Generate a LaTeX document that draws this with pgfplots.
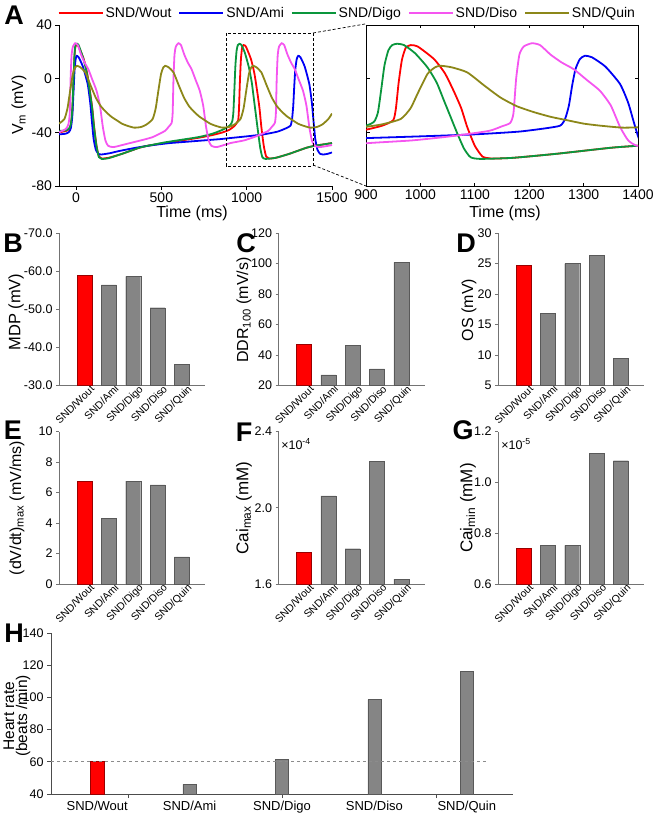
\documentclass[border=0pt]{standalone}
\usepackage{pgfplots}
\pgfplotsset{compat=1.18}
\usepackage{pgfplotstable}
\usepackage{fontspec}
\setmainfont{Liberation Sans}

\newcommand\fs[1]{\fontsize{#1}{#1}\selectfont}
\definecolor{cWout}{RGB}{255,0,0}
\definecolor{cAmi}{RGB}{0,0,245}
\definecolor{cDigo}{RGB}{10,150,60}
\definecolor{cDiso}{RGB}{245,85,240}
\definecolor{cQuin}{RGB}{140,135,25}

% action potentials, t (ms) vs Vm (mV)
\pgfplotstableread{
t v
-100 -40
-60 -39
-40 -37.5
-30 -34
-22 -24
-16 -5
-10 15
-5 23
2 25
15 24
45 14.6
65 4
81 -9
95 -22
106 -36
120 -50
134 -58
150 -59.5
190 -59
270 -56
370 -51.5
420 -50
520 -48
620 -46
720 -44
800 -42
860 -40
900 -38
930 -35
950 -31
955 -22
960 -3
966 14
973 23
982 25
995 24
1025 14.6
1045 4
1061 -9
1075 -22
1086 -36
1100 -50
1114 -58
1130 -59.5
1170 -59
1250 -56
1350 -51.5
1400 -50
1450 -49
1500 -48
}\tWout
\pgfplotstableread{
t v
-100 -41.5
-60 -41
-40 -39.5
-30 -36.5
-22 -28
-15 -10
-9 6
-3 14
3 17
15 16
40 9
68 -4
83 -18
93 -32
103 -45
116 -53
131 -56
150 -56.5
200 -55.5
250 -54
350 -51.5
450 -49.5
550 -48
650 -47
750 -46
850 -45
900 -44.3
1000 -43
1100 -41.5
1180 -39.5
1230 -37
1257 -35
1266 -30
1273 -20
1279 -5
1285 7
1293 14.5
1302 17
1315 16
1340 9
1367 -4
1382 -18
1392 -32
1402 -45
1415 -53
1430 -56
1450 -56.5
1475 -56
1500 -55
}\tAmi
\pgfplotstableread{
t v
-100 -39
-60 -38.5
-40 -37
-30 -33.5
-22 -23
-16 -4
-10 16
-5 24
2 26
15 25
45 14
65 3
81 -10
95 -23
106 -37
120 -50.5
134 -58.5
150 -59.8
190 -59.3
270 -56
370 -51.5
420 -50
520 -47.5
620 -45.5
720 -43.5
800 -41
860 -38
900 -35
915 -32
922 -25
928 -8
934 10
941 21
948 25
957 26
970 25
990 19
1013 8.4
1030 -3
1043 -16
1055 -28
1068 -41
1080 -52
1092 -58.5
1110 -59.8
1170 -59
1250 -56
1350 -51.5
1400 -50
1450 -49
1500 -48
}\tDigo
\pgfplotstableread{
t v
-100 -40
-60 -37.5
-45 -34
-37 -26
-32 0
-26 18
-18 24
-5 26.4
10 25
29 18
50 12
72 7
96 -1
120 -9
140 -20
157 -36
172 -46
188 -50
220 -51
300 -48.5
380 -46
450 -43.5
520 -39
545 -35.5
560 -33
566 -26
571 0
577 18
585 24
600 26.4
615 25
634 18
655 12
677 7
701 -1
725 -9
745 -20
762 -36
777 -46
793 -50
825 -51
905 -48
985 -46
1055 -43
1125 -39
1150 -35.5
1165 -33
1171 -26
1176 0
1182 18
1190 24
1205 26.4
1220 25
1239 18
1260 12
1282 7
1306 -1
1330 -9
1350 -20
1367 -36
1382 -46
1398 -50
1430 -51
1500 -49.5
}\tDiso
\pgfplotstableread{
t v
-100 -33.5
-68 -30
-50 -22
-37 -11
-19 3.5
-5 8.5
5 9.6
25 8.5
54 4.7
85 -5
115 -14
145 -20.5
177 -25
208 -28.5
238 -31
268 -33.5
298 -35
340 -36.5
382 -36
415 -34
449 -30
467 -22
480 -11
498 3.5
512 8.5
522 9.6
542 8.5
571 4.7
602 -5
632 -14
662 -20.5
694 -25
725 -28.5
755 -31
785 -33.5
815 -35
857 -36.5
897 -36
930 -34
964 -30
982 -22
995 -11
1013 3.5
1027 8.5
1037 9.6
1057 8.5
1086 4.7
1117 -5
1147 -14
1177 -20.5
1209 -25
1240 -28.5
1270 -31
1300 -33.5
1330 -35
1372 -36.5
1412 -36
1445 -34
1479 -30
1500 -26
}\tQuin

\pgfplotsset{
 every axis/.append style={scale only axis},
 /pgf/number format/assume math mode=true,
 /pgf/number format/set thousands separator={},
 ap/.style={line width=1.8pt, smooth, tension=0.35},
 barax/.style={
  width=146pt, height=152.5pt,
  xmin=-1.05, xmax=4.95, ybar,
  axis x line*=bottom, axis y line*=left,
  axis line style={draw=black!55, line width=0.8pt, -},
  xtick={0,1,2,3,4},
  xticklabels={SND/Wout,SND/Ami,SND/Digo,SND/Diso,SND/Quin},
  x tick label style={rotate=45, anchor=north east, font=\fs{10.5}, inner sep=0.5pt, xshift=7pt},
  xtick style={draw=none},
  ytick style={draw=black!55, line width=0.8pt},
  tick align=outside, major tick length=3pt,
  y tick label style={font=\fs{12.5}},
 },
 redbar/.style={fill=red, draw=red!60!black, bar width=15pt, bar shift=0pt},
 graybar/.style={fill=black!48, draw=black!65, bar width=15pt, bar shift=0pt},
}

\begin{document}
\begin{tikzpicture}[x=1pt,y=1pt]
\useasboundingbox (0,0) rectangle (654,-817);

% ---------- A: full trace
\begin{axis}[at={(59pt,-186pt)}, anchor=south west, width=273pt, height=161pt,
 xmin=-100, xmax=1500, ymin=-80, ymax=40,
 axis x line*=bottom, axis y line*=left, axis line style={line width=0.9pt,-},
 xtick={0,500,1000,1500}, ytick={-80,-40,0,40},
 tick align=outside, major tick length=3.5pt, tick style={line width=0.9pt, black},
 tick label style={font=\fs{14}},
 legend columns=5,
 legend style={at={(axis description cs:-0.005,1.075)}, anchor=west, draw=none, fill=none,
   font=\fs{14}, inner sep=0pt, /tikz/every even column/.append style={column sep=5pt}},
 legend image code/.code={\draw[#1] (0pt,0pt) -- (44pt,0pt);}]
\addplot[cWout, ap] table {\tWout};
\addplot[cAmi, ap] table {\tAmi};
\addplot[cDigo, ap] table {\tDigo};
\addplot[cDiso, ap] table {\tDiso};
\addplot[cQuin, ap] table {\tQuin};
\legend{SND/Wout,SND/Ami,SND/Digo,SND/Diso,SND/Quin}
\draw[densely dashed, line width=0.7pt] (axis cs:880,34) rectangle (axis cs:1390,-65);
\end{axis}

% ---------- A: zoom
\begin{axis}[at={(366pt,-186pt)}, anchor=south west, width=272pt, height=161pt,
 xmin=900, xmax=1400, ymin=-80, ymax=40,
 axis line style={line width=0.9pt},
 xtick={900,1000,...,1400}, ytick={-80,-40,0,40}, yticklabels={},
 tick align=inside, major tick length=3.5pt, tick style={line width=0.9pt, black},
 tick label style={font=\fs{14}}]
\addplot[cWout, ap] table {\tWout};
\addplot[cAmi, ap] table {\tAmi};
\addplot[cDigo, ap] table {\tDigo};
\addplot[cDiso, ap] table {\tDiso};
\addplot[cQuin, ap] table {\tQuin};
\end{axis}
\draw[densely dashed, line width=0.7pt] (313,-33) -- (365,-24);
\draw[densely dashed, line width=0.7pt] (313,-165) -- (366,-186);

% ---------- B
\begin{axis}[barax, at={(59pt,-385.5pt)}, anchor=south west,
 y dir=reverse, ymin=-70, ymax=-30, ytick={-70,-60,-50,-40,-30},
 y tick label style={/pgf/number format/.cd, fixed, fixed zerofill, precision=1}]
\addplot[redbar] coordinates {(0,-58.9)};
\addplot[graybar] coordinates {(1,-56.4)(2,-58.6)(3,-50.4)(4,-35.5)};
\end{axis}
% ---------- C
\begin{axis}[barax, at={(278.5pt,-385.5pt)}, anchor=south west,
 ymin=20, ymax=120, ytick={20,40,...,120}]
\addplot[redbar] coordinates {(0,47)};
\addplot[graybar] coordinates {(1,27)(2,46.3)(3,30.9)(4,100.7)};
\end{axis}
% ---------- D
\begin{axis}[barax, at={(498pt,-385.5pt)}, anchor=south west,
 ymin=5, ymax=30, ytick={5,10,...,30}]
\addplot[redbar] coordinates {(0,24.8)};
\addplot[graybar] coordinates {(1,16.8)(2,25.0)(3,26.3)(4,9.4)};
\end{axis}
% ---------- E
\begin{axis}[barax, at={(59pt,-584pt)}, anchor=south west,
 ymin=0, ymax=10, ytick={0,2,...,10}]
\addplot[redbar] coordinates {(0,6.72)};
\addplot[graybar] coordinates {(1,4.3)(2,6.75)(3,6.5)(4,1.78)};
\end{axis}
% ---------- F (x 1e-4 mM)
\begin{axis}[barax, at={(278.5pt,-584pt)}, anchor=south west,
 ymin=1.6, ymax=2.4, ytick={1.6,2.0,2.4},
 y tick label style={/pgf/number format/.cd, fixed, fixed zerofill, precision=1}]
\addplot[redbar] coordinates {(0,1.767)};
\addplot[graybar] coordinates {(1,2.062)(2,1.785)(3,2.245)(4,1.625)};
\end{axis}
% ---------- G (x 1e-5 mM)
\begin{axis}[barax, at={(498pt,-584pt)}, anchor=south west,
 ymin=0.6, ymax=1.2, ytick={0.6,0.8,1.0,1.2},
 y tick label style={/pgf/number format/.cd, fixed, fixed zerofill, precision=1}]
\addplot[redbar] coordinates {(0,0.742)};
\addplot[graybar] coordinates {(1,0.752)(2,0.752)(3,1.115)(4,1.085)};
\end{axis}

% ---------- H
\begin{axis}[at={(51pt,-794pt)}, anchor=south west, width=462pt, height=161pt,
 xmin=-0.5, xmax=4.5, ymin=40, ymax=140, ybar,
 axis x line*=bottom, axis y line*=left,
 axis line style={draw=black!70, line width=0.8pt, -},
 tick style={draw=black!70, line width=0.8pt},
 ytick={40,60,...,140},
 xtick={0.333,2,3.667}, xticklabels={},
 extra x ticks={0,1,2,3,4},
 extra x tick labels={SND/Wout,SND/Ami,SND/Digo,SND/Diso,SND/Quin},
 extra x tick style={major tick length=0pt, x tick label style={yshift=-4pt, font=\fs{13}}},
 tick align=outside, major tick length=4pt,
 tick label style={font=\fs{12.5}}]
\addplot[redbar, bar width=13.3pt] coordinates {(0,60.4)};
\addplot[graybar, bar width=13.3pt] coordinates {(1,46)(2,61.4)(3,98.6)(4,116.3)};
\draw[dashed, black!45, line width=0.5pt] (axis cs:-0.5,60.6) -- (axis cs:4.21,60.6);
\end{axis}

% ---------- labels
\begin{scope}[every node/.style={font=\fs{27}\bfseries}]
\node at (14,-15) {A};
\node at (13,-243) {B};
\node at (246,-243) {C};
\node at (466,-243) {D};
\node at (13,-430) {E};
\node at (244,-432) {F};
\node at (463,-430) {G};
\node at (14,-633) {H};
\end{scope}
\node[font=\fs{16}, rotate=90] at (19,-105) {V\textsubscript{m} (mV)};
\node[font=\fs{16}] at (192,-213) {Time (ms)};
\node[font=\fs{16}] at (505,-213) {Time (ms)};
\node[font=\fs{16.5}, rotate=90] at (16,-312) {MDP (mV)};
\node[font=\fs{16}, rotate=90] at (244,-310) {DDR\textsubscript{100} (mV/s)};
\node[font=\fs{16}, rotate=90] at (469,-310) {OS (mV)};
\node[font=\fs{16}, rotate=90] at (17,-508) {(dV/dt)\textsubscript{max} (mV/ms)};
\node[font=\fs{17}, rotate=90] at (244,-508) {Cai\textsubscript{max} (mM)};
\node[font=\fs{17}, rotate=90] at (468,-508) {Cai\textsubscript{min} (mM)};
\node[font=\fs{12.5}] at (296,-444) {×10\textsuperscript{-4}};
\node[font=\fs{12.5}] at (516,-444) {×10\textsuperscript{-5}};
\node[font=\fs{15.5}, rotate=90, align=center, inner sep=0pt] at (17,-716) {Heart rate\\[-2.5pt](beats /min)};
\end{tikzpicture}
\end{document}
